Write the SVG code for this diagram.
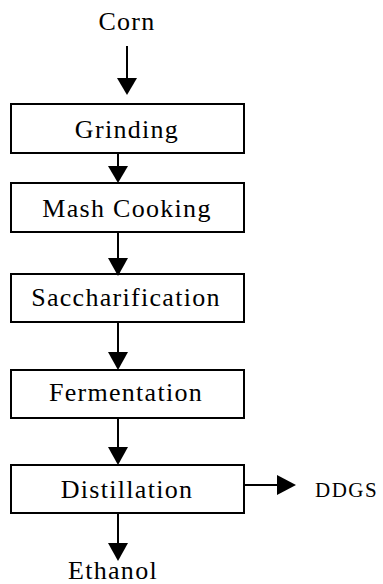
<svg xmlns="http://www.w3.org/2000/svg" width="383" height="584" viewBox="0 0 383 584">
<style>
.box{fill:#fff;stroke:#000;stroke-width:2}
.t{font-family:"Liberation Serif","Times New Roman",serif;font-size:26px;letter-spacing:1.3px;text-anchor:middle;fill:#000}
.s{font-size:21px;letter-spacing:1.5px;text-anchor:start}
.ln{stroke:#000;stroke-width:2;fill:none}
.ah{fill:#000}
</style>
<rect width="383" height="584" fill="#fff"/>
<g id="corn"><text class="t" x="127" y="30">Corn</text></g>
<g id="grinding"><rect class="box" x="11" y="104" width="233" height="49"/><text class="t" x="127" y="138">Grinding</text></g>
<g id="mash"><rect class="box" x="11" y="183" width="233" height="49"/><text class="t" x="127" y="217">Mash Cooking</text></g>
<g id="sacch"><rect class="box" x="11" y="274" width="233" height="48"/><text class="t" x="126" y="306">Saccharification</text></g>
<g id="ferm"><rect class="box" x="11" y="370" width="233" height="48"/><text class="t" x="126" y="401">Fermentation</text></g>
<g id="dist"><rect class="box" x="11" y="465" width="233" height="48"/><text class="t" x="127" y="498">Distillation</text></g>
<g id="ddgs"><text class="t s" x="315" y="497">DDGS</text></g>
<g id="ethanol"><text class="t" x="113" y="579">Ethanol</text></g>
<g id="connectors">
<line class="ln" x1="127" y1="46" x2="127" y2="80"/><polygon class="ah" points="117,78 137,78 127,95"/>
<line class="ln" x1="118" y1="153" x2="118" y2="168"/><polygon class="ah" points="108,166 128,166 118,183"/>
<line class="ln" x1="118" y1="232" x2="118" y2="260"/><polygon class="ah" points="108,258 128,258 118,276"/>
<line class="ln" x1="118" y1="322" x2="118" y2="354"/><polygon class="ah" points="108,352 128,352 118,370"/>
<line class="ln" x1="118" y1="418" x2="118" y2="449"/><polygon class="ah" points="108,447 128,447 118,465"/>
<line class="ln" x1="244" y1="485" x2="279" y2="485"/><polygon class="ah" points="277,475 277,495 296,485"/>
<line class="ln" x1="118" y1="513" x2="118" y2="545"/><polygon class="ah" points="108,543 128,543 118,561"/>
</g>
</svg>
